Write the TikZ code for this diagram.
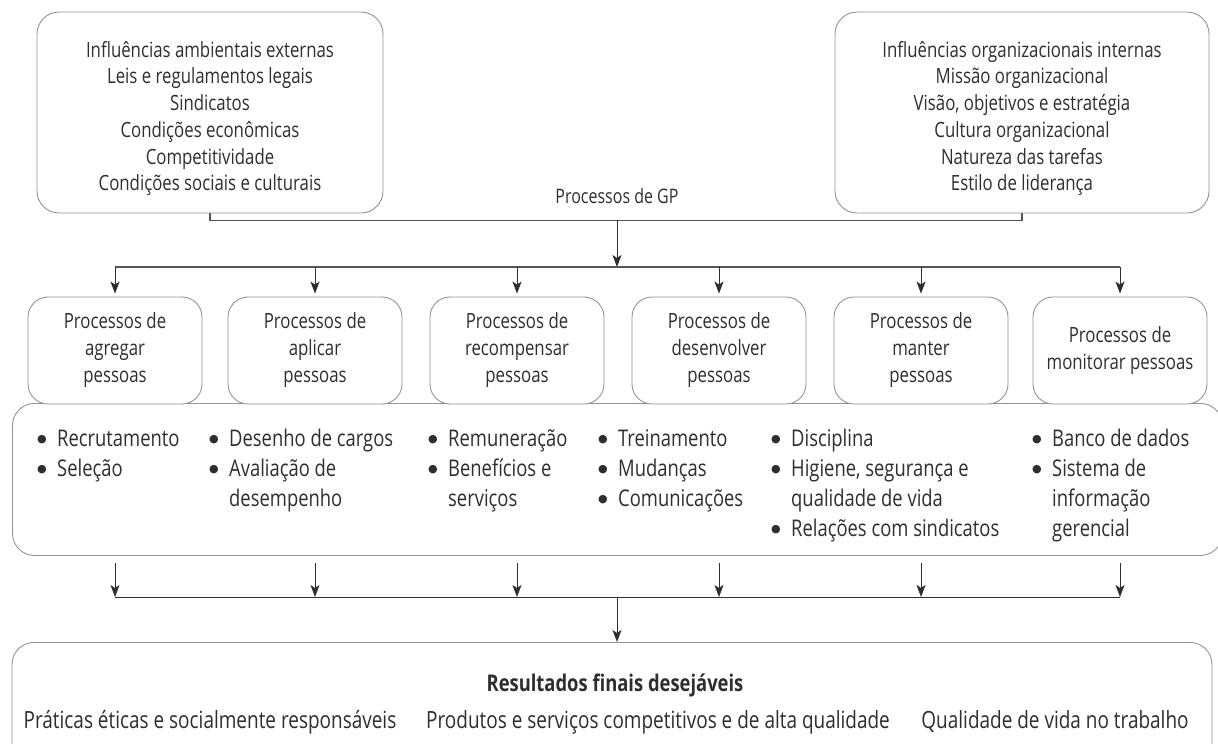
\documentclass[tikz,border=0pt]{standalone}
\usepackage{fontspec}
\setmainfont{Open Sans}[FakeStretch=0.8]
\newfontfamily\dotfont{DejaVu Sans}
\usetikzlibrary{arrows.meta}
\definecolor{ink}{HTML}{2E2E2E}
\definecolor{frame}{HTML}{939393}
\definecolor{link}{HTML}{555555}
\newcommand\itm{\makebox[20pt][l]{\raisebox{3.5pt}{\dotfont\fontsize{11}{11}\selectfont ●}}}
\newcommand\cont{\makebox[20pt][l]{}}
\begin{document}
\begin{tikzpicture}[x=1pt,y=-1pt,
  box/.style={draw=frame,line width=0.9pt,rounded corners=22pt,fill=white,inner sep=0pt},
  pbox/.style={box,rounded corners=20pt,minimum width=174pt,minimum height=107pt,
    align=center,text=ink,font=\fontsize{21}{27}\selectfont},
  txt/.style={text=ink,inner sep=0pt},
  toptxt/.style={txt,align=center,font=\fontsize{21}{26.7}\selectfont},
  listtxt/.style={txt,anchor=base west,font=\fontsize{23}{30}\selectfont},
  endtxt/.style={txt,font=\fontsize{23.7}{26}\selectfont},
  link/.style={draw=link,line width=1.3pt},
  arr/.style={draw=ink,line width=0.9pt,-{Stealth[length=12pt,width=9pt,inset=3pt]}}
]
\useasboundingbox (0,0) rectangle (1218,744);

% influence boxes
\node[box,minimum width=346pt,minimum height=201pt] (ext) at (210,112.5) {};
\node[toptxt] (extT) at (210,118.5) {Influências ambientais externas\\Leis e regulamentos legais\\Sindicatos\\Condições econômicas\\Competitividade\\Condições sociais e culturais};
\node[box,minimum width=374pt,minimum height=201pt] (int) at (1022,112.5) {};
\node[toptxt] (intT) at (1022,118.5) {Influências organizacionais internas\\Missão organizacional\\Visão, objetivos e estratégia\\Cultura organizacional\\Natureza das tarefas\\Estilo de liderança};

\node[txt,font=\fontsize{20}{24}\selectfont] (gp) at (617,196) {Processos de GP};
\draw[link] (ext.south) -- ++(0,7) coordinate (hub0) -| (int.south);
\coordinate (hub) at (617,220);
\coordinate (bar) at (617,267);
\draw[arr] (hub) -- (bar);

% list box and process boxes
\node[box,minimum width=1210pt,minimum height=152pt,anchor=north west] (lst) at (12,403) {};
\node[pbox] (p1) at (115,350.5) {Processos de\\agregar\\pessoas};
\node[pbox] (p2) at (315,350.5) {Processos de\\aplicar\\pessoas};
\node[pbox] (p3) at (517,350.5) {Processos de\\recompensar\\pessoas};
\node[pbox] (p4) at (719,350.5) {Processos de\\desenvolver\\pessoas};
\node[pbox] (p5) at (921,350.5) {Processos de\\manter\\pessoas};
\node[pbox] (p6) at (1120,350.5) {Processos de\\monitorar pessoas};

\draw[link] (p1.north |- bar) -- (p6.north |- bar);
\foreach \i in {1,...,6} \draw[arr,shorten >=3pt] (p\i.north |- bar) -- (p\i.north);

% list items
\node[listtxt] (l1) at (37,446) {\begin{tabular}[t]{@{}l@{}}\itm Recrutamento\\\itm Seleção\end{tabular}};
\node[listtxt] (l2) at (209,446) {\begin{tabular}[t]{@{}l@{}}\itm Desenho de cargos\\\itm Avaliação de\\\cont desempenho\end{tabular}};
\node[listtxt] (l3) at (428,446) {\begin{tabular}[t]{@{}l@{}}\itm Remuneração\\\itm Benefícios e\\\cont serviços\end{tabular}};
\node[listtxt] (l4) at (598,446) {\begin{tabular}[t]{@{}l@{}}\itm Treinamento\\\itm Mudanças\\\itm Comunicações\end{tabular}};
\node[listtxt] (l5) at (771,446) {\begin{tabular}[t]{@{}l@{}}\itm Disciplina\\\itm Higiene, segurança e\\\cont qualidade de vida\\\itm Relações com sindicatos\end{tabular}};
\node[listtxt] (l6) at (1032,446) {\begin{tabular}[t]{@{}l@{}}\itm Banco de dados\\\itm Sistema de\\\cont informação\\\cont gerencial\end{tabular}};

% results
\coordinate (merge) at (617,597);
\foreach \i in {1,...,6} \draw[arr] (p\i.south |- 0,563) -- (p\i.south |- merge);
\draw[draw=ink,line width=0.9pt] (p1.south |- merge) -- (p6.south |- merge);
\node[box,minimum width=1200pt,minimum height=130pt,anchor=north] (res) at (612,642) {};
\draw[arr] (merge) -- (merge |- res.north);
\node[endtxt,font=\bfseries\fontsize{23}{26}\selectfont] (resT) at (615,685) {Resultados finais desejáveis};
\node[endtxt] (r1) at (210,722) {Práticas éticas e socialmente responsáveis};
\node[endtxt] (r2) at (658,722) {Produtos e serviços competitivos e de alta qualidade};
\node[endtxt] (r3) at (1055,722) {Qualidade de vida no trabalho};
\end{tikzpicture}
\end{document}
